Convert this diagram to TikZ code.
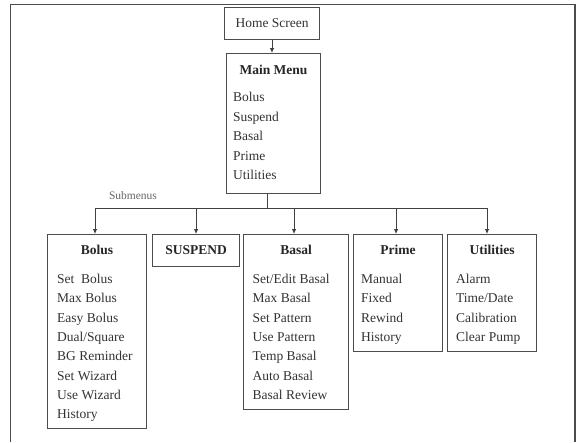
\documentclass[tikz,border=0pt]{standalone}
\usepackage{fontspec}
\setmainfont{Liberation Serif}
\usetikzlibrary{arrows.meta,shadows}
\begin{document}
\begin{tikzpicture}[x=1pt,y=-1pt,
  box/.style={draw=black!70, line width=1.1pt, fill=white, inner sep=0pt, anchor=north west,
    drop shadow={shadow xshift=0.8pt, shadow yshift=-0.8pt, fill=black!45, opacity=1}},
  ttl/.style={font=\fontsize{13.5}{16}\selectfont\bfseries, text=black!85, inner sep=0pt},
  items/.style={font=\fontsize{13.5}{19.3}\selectfont, text=black!80, align=left, inner sep=0pt, anchor=north west},
  conn/.style={draw=black!75, line width=0.8pt},
  arr/.style={conn, -{Latex[length=5pt,width=4.5pt]}}]
\useasboundingbox (0,0) rectangle (581,442);
% outer frame
\draw[draw=black!70, line width=1.3pt] (10.7,442) -- (10.7,4.7) -- (575,4.7) -- (575,442);

% Home screen
\node[box, minimum width=95pt, minimum height=32pt] (home) at (224,7) {};
\node[font=\fontsize{13.5}{16}\selectfont, text=black!80, inner sep=0pt] (homeT) at (home.center) {Home Screen};

% Main menu
\node[box, minimum width=94pt, minimum height=140pt] (main) at (226,53) {};
\node[ttl] (mainT) at (main.north |- 0,70) {Main Menu};
\node[items, font=\fontsize{13.5}{19.6}\selectfont] (mainI) at (233,92) {Bolus\\Suspend\\Basal\\Prime\\Utilities};

% submenus
\node[box, minimum width=99pt, minimum height=194pt] (bolus) at (47,234) {};
\node[ttl] (bolusT) at (bolus.north |- 0,250) {Bolus};
\node[items] (bolusI) at (57,274) {Set\ \ Bolus\\Max Bolus\\Easy Bolus\\Dual/Square\\BG Reminder\\Set Wizard\\Use Wizard\\History};

\node[box, minimum width=87pt, minimum height=32pt] (susp) at (152,234) {};
\node[ttl] (suspT) at (susp.center) {SUSPEND};

\node[box, minimum width=105pt, minimum height=175pt] (basal) at (243,234) {};
\node[ttl] (basalT) at (basal.north |- 0,250) {Basal};
\node[items] (basalI) at (252.5,274) {Set/Edit Basal\\Max Basal\\Set Pattern\\Use Pattern\\Temp Basal\\Auto Basal\\Basal Review};

\node[box, minimum width=89pt, minimum height=117pt] (prime) at (353,234) {};
\node[ttl] (primeT) at (prime.north |- 0,250) {Prime};
\node[items] (primeI) at (361,274) {Manual\\Fixed\\Rewind\\History};

\node[box, minimum width=89pt, minimum height=117pt] (util) at (447,234) {};
\node[ttl] (utilT) at (util.north |- 0,250) {Utilities};
\node[items] (utilI) at (456,274) {Alarm\\Time/Date\\Calibration\\Clear Pump};

% connectors
\draw[arr] (home.south -| 272,0) -- (main.north -| 272,0);
\coordinate (j) at (267,208);
\draw[conn] (main.south -| j) -- (j);
\coordinate (hl) at (95,208);
\coordinate (hr) at (487,208);
\draw[conn] (hl) -- (hr);
\draw[arr] (hl) -- (hl |- bolus.north);
\draw[arr] (susp.north |- j) -- (susp.north);
\draw[arr] ([xshift=-2pt]basal.north |- j) -- ([xshift=-2pt]basal.north);
\draw[arr] ([xshift=-2pt]prime.north |- j) -- ([xshift=-2pt]prime.north);
\draw[arr] (hr) -- (hr |- util.north);

\node[font=\fontsize{11.5}{14}\selectfont, text=black!60, inner sep=0pt] (sub) at (133,196) {Submenus};
\end{tikzpicture}
\end{document}
